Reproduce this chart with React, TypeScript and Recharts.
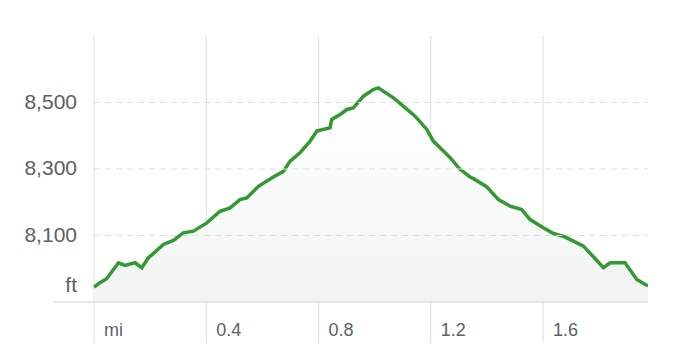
import React from 'react'
import {
  AreaChart,
  Area,
  XAxis,
  YAxis,
  CartesianGrid,
  ReferenceLine,
} from 'recharts'

const miles = [
  0, 0.021, 0.045, 0.087, 0.11, 0.146, 0.17, 0.194, 0.217, 0.247, 0.283, 0.318,
  0.354, 0.402, 0.449, 0.485, 0.52, 0.544, 0.586, 0.639, 0.675, 0.698, 0.734,
  0.77, 0.794, 0.841, 0.847, 0.877, 0.901, 0.924, 0.96, 0.995, 1.013, 1.031,
  1.067, 1.102, 1.144, 1.186, 1.209, 1.245, 1.269, 1.304, 1.34, 1.352, 1.4,
  1.441, 1.483, 1.524, 1.554, 1.601, 1.637, 1.678, 1.708, 1.744, 1.786, 1.815,
  1.839, 1.892, 1.934, 1.974,
]

const elevation = [
  7945, 7958, 7970, 8018, 8010, 8018, 8003, 8033, 8050, 8073, 8085, 8108,
  8113, 8138, 8173, 8183, 8208, 8213, 8248, 8276, 8293, 8323, 8349,
  8384, 8414, 8424, 8449, 8464, 8479, 8484, 8519, 8539, 8544, 8534,
  8514, 8489, 8459, 8419, 8384, 8354, 8334, 8299, 8276, 8271, 8246,
  8208, 8188, 8178, 8148, 8123, 8106, 8096, 8083, 8068, 8030, 8003,
  8018, 8018, 7968, 7948,
]

const xTicks = [0, 0.4, 0.8, 1.2, 1.6]
const yTicks = [7950, 8100, 8300, 8500]
const gridLevels = [8100, 8300, 8500]

const data = miles.map((mi, i) => ({ mi, ft: elevation[i] }))

const labelColor = '#606060'
const fontFamily = '"Liberation Sans", Arial, sans-serif'

const XTick = ({ x, y, payload }: any) => (
  <g>
    <line x1={x} x2={x} y1={y} y2={y + 41} stroke="#dddddd" strokeWidth={1} />
    <text x={x + 10} y={y + 34} fill={labelColor} fontSize={18} fontFamily={fontFamily}>
      {payload.value === 0 ? 'mi' : payload.value.toFixed(1)}
    </text>
  </g>
)

const YTick = ({ x, y, payload }: any) => (
  <text
    x={x + 23}
    y={y}
    dy="0.3em"
    textAnchor="end"
    fill={labelColor}
    fontSize={21}
    fontFamily={fontFamily}
  >
    {payload.value === 7950 ? 'ft' : payload.value.toLocaleString('en-US')}
  </text>
)

export default function App() {
  return (
    <div style={{ position: 'fixed', left: 0, top: 0, background: '#fff' }}>
      <AreaChart
        width={684}
        height={364}
        data={data}
        margin={{ top: 36, right: 36, left: 0, bottom: 0 }}
      >
        <defs>
          <linearGradient id="fillGrad" x1="0" y1="0" x2="0" y2="1">
            <stop offset="0%" stopColor="#ffffff" />
            <stop offset="100%" stopColor="#f2f4f4" />
          </linearGradient>
        </defs>
        <CartesianGrid horizontal={false} verticalValues={xTicks} stroke="#dddddd" />
        {gridLevels.map((v) => (
          <ReferenceLine
            key={v}
            segment={[
              { x: 0, y: v },
              { x: 1.974, y: v },
            ]}
            stroke="#dddddd"
            strokeDasharray="6 5"
          />
        ))}
        <XAxis
          type="number"
          dataKey="mi"
          domain={[-0.1426, 1.974]}
          allowDataOverflow
          ticks={xTicks}
          height={62}
          tickSize={0}
          tickMargin={0}
          tickLine={false}
          axisLine={{ stroke: '#e6e6e6', strokeWidth: 2 }}
          tick={<XTick />}
          interval={0}
        />
        <YAxis
          type="number"
          domain={[7900, 8700]}
          ticks={yTicks}
          width={54}
          tickSize={0}
          tickMargin={0}
          tickLine={false}
          axisLine={false}
          tick={<YTick />}
          interval={0}
        />
        <Area
          type="linear"
          dataKey="ft"
          stroke="#339933"
          strokeWidth={3.5}
          fill="url(#fillGrad)"
          fillOpacity={1}
          baseValue={7900}
          isAnimationActive={false}
          dot={false}
          activeDot={false}
        />
      </AreaChart>
    </div>
  )
}
